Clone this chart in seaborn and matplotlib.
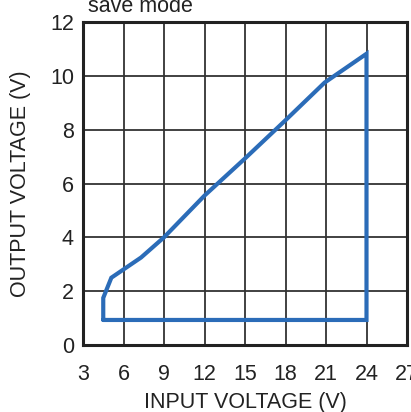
import numpy as np
import pandas as pd
import matplotlib
matplotlib.use("Agg")
import matplotlib.pyplot as plt
import seaborn as sns

# ---------------- DATA ----------------
vin = [4.5, 4.5, 5.1, 7.3, 9.0, 12.0, 15.0, 18.0, 20.9, 24.0, 24.0, 4.5]
vout = [0.93, 1.75, 2.5, 3.25, 4.0, 5.55, 6.93, 8.35, 9.75, 10.82, 0.93, 0.93]
x_ticks = [3, 6, 9, 12, 15, 18, 21, 24, 27]
y_ticks = [0, 2, 4, 6, 8, 10, 12]

df = pd.DataFrame({"vin": vin, "vout": vout, "order": range(len(vin))})

# ---------------- STYLE ----------------
sns.set_theme(style="white")
plt.rcParams["font.family"] = ["Liberation Sans", "DejaVu Sans"]

fig = plt.figure(figsize=(4.11, 4.12), dpi=100)
ax = fig.add_axes([83 / 411, 1 - 345 / 412, 324 / 411, 323 / 412])

sns.lineplot(data=df, x="vin", y="vout", sort=False, estimator=None,
             color="#2b6cb8", linewidth=3, ax=ax, solid_joinstyle="miter")

ax.set_xlim(3, 27)
ax.set_ylim(0, 12)
ax.set_xticks(x_ticks)
ax.set_yticks(y_ticks)
ax.grid(True, color="#333333", linewidth=1.3)
ax.set_axisbelow(True)
for s in ax.spines.values():
    s.set_color("#222222")
    s.set_linewidth(2.2)

ax.tick_params(axis="both", length=0, labelsize=15.5, colors="#222222")
ax.tick_params(axis="x", pad=14)
ax.tick_params(axis="y", pad=6.5)

ax.set_xlabel("INPUT VOLTAGE (V)", fontsize=15.5, color="#222222", labelpad=4.5)
ax.set_ylabel("OUTPUT VOLTAGE (V)", fontsize=15.5, color="#222222", labelpad=14)

fig.text(88 / 411, 1 - 12 / 412, "save mode", fontsize=15.5, color="#222222",
         ha="left", va="baseline")

plt.savefig("out.png", dpi=100)
plt.close()
